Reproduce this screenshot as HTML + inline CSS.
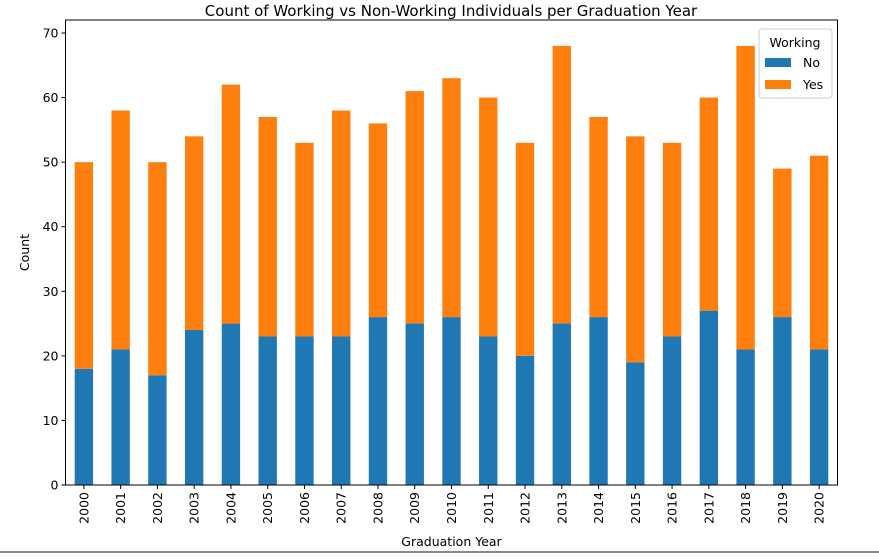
<!DOCTYPE html>
<html><head><meta charset="utf-8"><style>
body{margin:0;background:#fff;width:879px;height:554px;overflow:hidden}
svg text{font-family:"DejaVu Sans","Liberation Sans",sans-serif;fill:#000}
</style></head><body>
<svg id="chart" width="879" height="554">
<text x="451" y="16" font-size="15" text-anchor="middle">Count of Working vs Non-Working Individuals per Graduation Year</text>
<g id="bars"></g><g id="axes"></g>
<line x1="0" y1="552" x2="879" y2="552" stroke="#888" stroke-width="2"/>
</svg>
<script>
const years=["2000","2001","2002","2003","2004","2005","2006","2007","2008","2009","2010","2011","2012","2013","2014","2015","2016","2017","2018","2019","2020"];
const noVals=[18,21,17,24,25,23,23,23,26,25,26,23,20,25,26,19,23,27,21,26,21];
const yesVals=[32,37,33,30,37,34,30,35,30,36,37,37,33,43,31,35,30,33,47,23,30];
const yTicks=[0,10,20,30,40,50,60,70];
const NS="http://www.w3.org/2000/svg";
const L=65.5,R=837.5,T=20,B=485;
const step=(R-L)/years.length;
const xC=i=>L+step*(i+0.5);
const yS=v=>B-v*(452/70);
const bars=document.getElementById('bars'),axes=document.getElementById('axes');
function mk(tag,attrs,parent){const e=document.createElementNS(NS,tag);for(const k in attrs)e.setAttribute(k,attrs[k]);parent.appendChild(e);return e;}
const bw=step*0.5;
years.forEach((y,i)=>{
 const r1=mk('rect',{x:xC(i)-bw/2,y:yS(noVals[i]),width:bw,height:yS(0)-yS(noVals[i]),fill:'#1f77b4'},bars);
 
 
 const r2=mk('rect',{x:xC(i)-bw/2,y:yS(noVals[i]+yesVals[i]),width:bw,height:yS(noVals[i])-yS(noVals[i]+yesVals[i]),fill:'#ff7f0e'},bars);
 
 
 mk('line',{x1:xC(i),x2:xC(i),y1:B,y2:B+4,stroke:'#000'},axes);
 const t=mk('text',{x:0,y:0,'font-size':12.5,'text-anchor':'end',transform:`translate(${xC(i)+4.5},${B+7}) rotate(-90)`},axes);
 t.textContent=y;
 
 
});
yTicks.forEach(v=>{
 mk('line',{x1:L-4,x2:L,y1:yS(v),y2:yS(v),stroke:'#000'},axes);
 const t=mk('text',{x:L-7,y:yS(v)+4.5,'font-size':12.5,'text-anchor':'end'},axes);
 t.textContent=v;
 
 
});
const fr=mk('rect',{x:L,y:T,width:R-L,height:B-T,fill:'none',stroke:'#000','stroke-width':1},axes);


const xt=mk('text',{x:(L+R)/2,y:546,'font-size':12.5,'text-anchor':'middle'},axes);
xt.textContent='Graduation Year';


const yt=mk('text',{x:0,y:0,'font-size':12.5,'text-anchor':'middle',transform:`translate(29,${(T+B)/2}) rotate(-90)`},axes);
yt.textContent='Count';


const lg=mk('g',{},axes);


mk('rect',{x:759,y:29,width:73,height:69,rx:3,fill:'#fff',stroke:'#ccc','fill-opacity':0.8},lg);
const lt=mk('text',{x:795,y:47,'font-size':12.5,'text-anchor':'middle'},lg);lt.textContent='Working';
[['No','#1f77b4',67],['Yes','#ff7f0e',89]].forEach(([n,c,yy])=>{
 const e=mk('g',{},lg);
 
 
 mk('rect',{x:765,y:yy-9,width:26,height:9,fill:c},e);
 const tx=mk('text',{x:803,y:yy,'font-size':12.5},e);tx.textContent=n;
});
</script>
</body></html>
